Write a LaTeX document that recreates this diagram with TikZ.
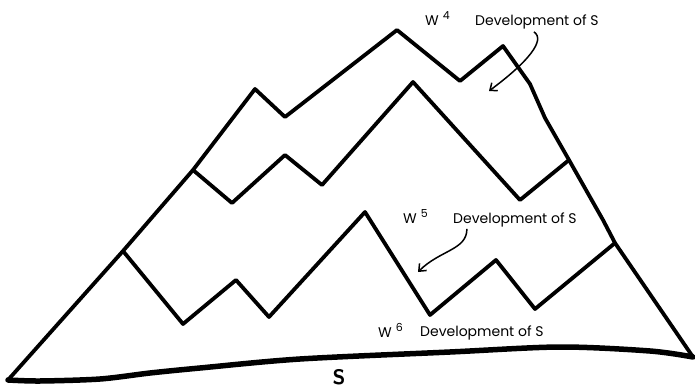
\documentclass[tikz,border=0pt]{standalone}
\usepackage{fontspec}
\newfontfamily\handfont{Poppins}
\usetikzlibrary{arrows.meta}

\begin{document}
\begin{tikzpicture}[
  x=1pt, y=-1pt,
  ridge/.style={line width=3.8pt, line join=round, line cap=round},
  ground/.style={line width=5.5pt, line cap=round},
  note/.style={font=\handfont\fontsize{14}{16}\selectfont, inner sep=0pt},
  wlbl/.style={note, anchor=base west},
  arr/.style={-{Straight Barb[length=6pt,width=10pt]}, line width=1.5pt}
]
  \useasboundingbox (0,0) rectangle (695,387);

  % outer outline
  \draw[ridge] (8,380) -- (123,251) -- (193,170) -- (255,89) -- (285,117)
    -- (397,30) -- (460,81) -- (503,46) -- (530,84) -- (545,118)
    -- (569,160) -- (603,220) -- (615,243) -- (693,357);
  % base S
  \draw[ground] plot[smooth, tension=0.5] coordinates {(8,380) (40,381)
    (100,379) (150,373) (200,368) (300,359) (450,352) (560,347)
    (650,351) (693,357)};

  % W4 / W5 boundary
  \draw[ridge] (193,170) -- (232,203) -- (285,155) -- (322,185)
    -- (413,82) -- (520,200) -- (569,160);
  % W5 / W6 boundary
  \draw[ridge] (123,251) -- (183,324) -- (236,280) -- (269,317)
    -- (365,212) -- (430,315) -- (496,260) -- (535,309) -- (615,243);

  % labels
  \node[note, anchor=base west] (dev4) at (475,26) {Development of S};
  \node[wlbl] (w4) at (425,26) {W\kern4pt\raisebox{6pt}{\fontsize{11}{12}\selectfont 4}};
  \node[note, anchor=base west] (dev5) at (453,223) {Development of S};
  \node[wlbl] (w5) at (403,224) {W\kern4pt\raisebox{6pt}{\fontsize{11}{12}\selectfont 5}};
  \node[note, anchor=base west] (dev6) at (420,336) {Development of S};
  \node[wlbl] (w6) at (378,337) {W\kern4pt\raisebox{6pt}{\fontsize{11}{12}\selectfont 6}};
  \node[font=\sffamily\bfseries\fontsize{21}{22}\selectfont, inner sep=0pt]
    (base) at (339,377) {S};

  \coordinate (t4) at (489,91);
  \coordinate (t5) at (418,272);
  \draw[arr] (dev4.south) ++(-3,2) .. controls (546,40) and (528,62) .. (t4);
  \draw[arr] (dev5.south) ++(-48,2) .. controls (467,250) and (440,250) .. (t5);
\end{tikzpicture}
\end{document}
